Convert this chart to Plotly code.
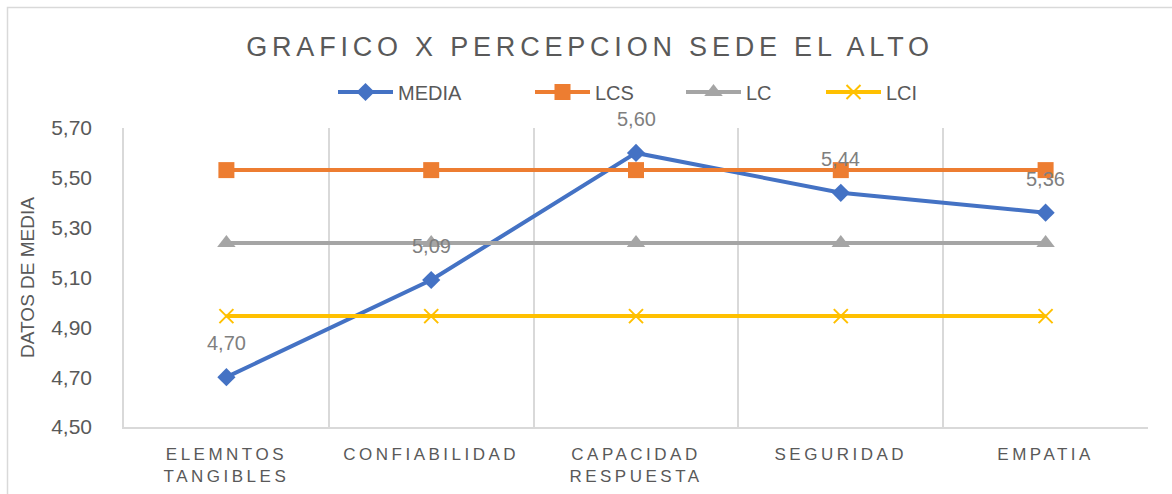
import plotly.graph_objects as go

categories = ["ELEMNTOS<br>TANGIBLES", "CONFIABILIDAD", "CAPACIDAD<br>RESPUESTA", "SEGURIDAD", "EMPATIA"]
media = [4.70, 5.09, 5.60, 5.44, 5.36]
lcs = [5.531, 5.531, 5.531, 5.531, 5.531]
lc = [5.238, 5.238, 5.238, 5.238, 5.238]
lci = [4.945, 4.945, 4.945, 4.945, 4.945]
media_labels = ["4,70", "5,09", "5,60", "5,44", "5,36"]
y_ticks = [4.50, 4.70, 4.90, 5.10, 5.30, 5.50, 5.70]

xs = list(range(len(categories)))
FONT = "Liberation Sans, Arial"
L, T, W, H = 124, 128, 1024, 299

def px_x(p):
    return (p - L) / W

def px_y(p):
    return (T + H - p) / H

fig = go.Figure()
fig.add_trace(go.Scatter(x=xs, y=media, name="MEDIA", mode="lines+markers", legend="legend",
                         line=dict(color="#4472C4", width=4),
                         marker=dict(symbol="diamond", size=14, color="#4472C4")))
fig.add_trace(go.Scatter(x=xs, y=lcs, name="LCS", mode="lines+markers", legend="legend2",
                         line=dict(color="#ED7D31", width=4),
                         marker=dict(symbol="square", size=16, color="#ED7D31")))
fig.add_trace(go.Scatter(x=xs, y=lc, name="LC", mode="lines+markers", legend="legend3",
                         line=dict(color="#A5A5A5", width=4),
                         marker=dict(symbol="triangle-up", size=16, color="#A5A5A5")))
fig.add_trace(go.Scatter(x=xs, y=lci, name="LCI", mode="lines+markers", legend="legend4",
                         line=dict(color="#FFC000", width=4),
                         marker=dict(symbol="x-thin", size=14, color="#FFC000",
                                     line=dict(color="#FFC000", width=2))))

for xv, yv, t in zip(xs, media, media_labels):
    fig.add_annotation(x=xv, y=yv, text=t, showarrow=False, yshift=34,
                       font=dict(family=FONT, size=20, color="#7F7F7F"))

# outer chart border
fig.add_shape(type="rect", xref="paper", yref="paper",
              x0=px_x(7.5), x1=px_x(1190), y0=px_y(505), y1=px_y(7.5),
              line=dict(color="#D9D9D9", width=1.5), fillcolor="rgba(0,0,0,0)", layer="below")

leg_common = dict(orientation="h", yanchor="middle", y=px_y(92), xanchor="left",
                  font=dict(family=FONT, size=20, color="#595959"),
                  itemwidth=55, bgcolor="rgba(0,0,0,0)", borderwidth=0)
leg_x = [339, 536, 687, 827]

fig.update_layout(
    width=1172, height=494,
    margin=dict(l=L, r=1172 - L - W, t=T, b=494 - T - H, autoexpand=False),
    paper_bgcolor="white", plot_bgcolor="white",
    title=dict(text="GRAFICO X PERCEPCION SEDE EL ALTO", x=590 / 1172, xref="container", xanchor="center",
               y=(494 - 47) / 494, yanchor="middle",
               font=dict(family=FONT, size=27, color="#595959")),
    legend=dict(x=px_x(leg_x[0] - 6), **leg_common),
    legend2=dict(x=px_x(leg_x[1] - 6), **leg_common),
    legend3=dict(x=px_x(leg_x[2] - 6), **leg_common),
    legend4=dict(x=px_x(leg_x[3] - 6), **leg_common),
    showlegend=True,
    separators=",.",
)
fig.update_xaxes(range=[-0.5, 4.5], tickmode="array", tickvals=xs, ticktext=categories,
                 showgrid=False, zeroline=False, showline=True, linecolor="#D9D9D9", linewidth=1.5,
                 ticks="", ticklabelstandoff=11, automargin=False,
                 tickfont=dict(family=FONT, size=17, color="#595959"),
                 minor=dict(tickmode="array", tickvals=[-0.5, 0.5, 1.5, 2.5, 3.5, 4.5], showgrid=True,
                            gridcolor="#D9D9D9", gridwidth=1.5, ticks=""),
                 fixedrange=True)
fig.update_yaxes(range=[4.50, 5.70], tickmode="array", tickvals=y_ticks,
                 tickformat=".2f", showgrid=False, zeroline=False,
                 showline=True, linecolor="#D9D9D9", linewidth=1.5,
                 ticks="", ticklabelstandoff=26, automargin=False,
                 tickfont=dict(family=FONT, size=21, color="#595959"),
                 title=dict(text="DATOS DE MEDIA", standoff=12,
                            font=dict(family=FONT, size=19, color="#595959")),
                 fixedrange=True)

post = """
var s=document.createElement('style');
s.innerHTML='body{margin:0;} .gtitle{letter-spacing:4.8px;} .xtick text{letter-spacing:3.5px;}';
document.head.appendChild(s);
"""
fig.write_html("out.html", post_script=post, config={"displayModeBar": False})
